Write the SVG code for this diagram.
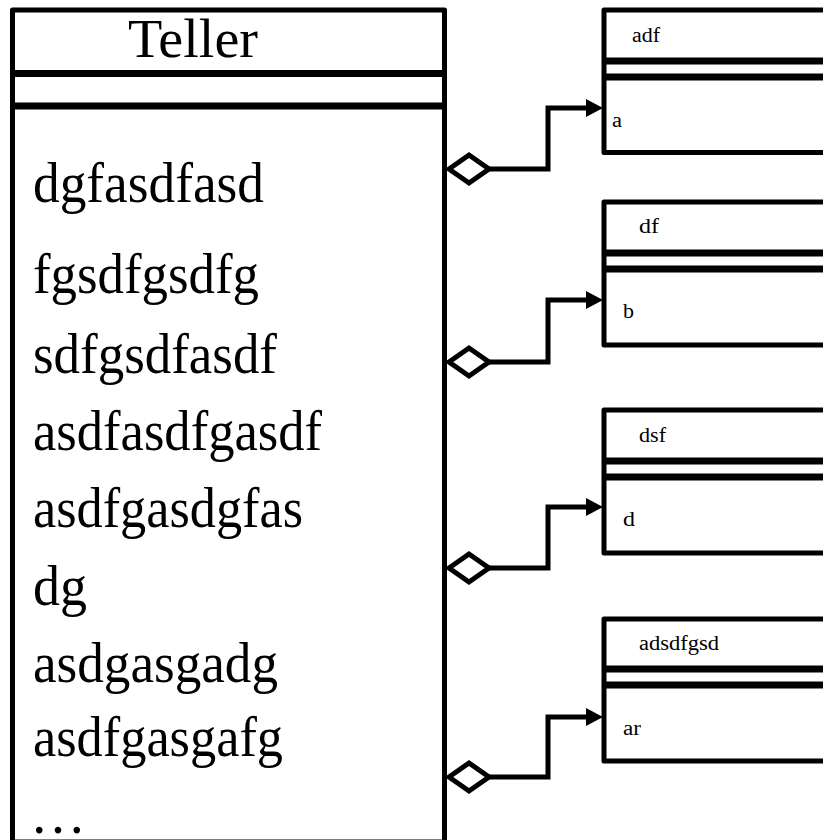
<svg xmlns="http://www.w3.org/2000/svg" width="823" height="840" viewBox="0 0 823 840">
<style>
.box{fill:#fff;stroke:#000;stroke-width:5;stroke-linejoin:round}
.sep{stroke:#000;stroke-width:7}
.big{font-family:"Liberation Serif","Times New Roman",serif;font-size:56px;fill:#000}
.title{font-family:"Liberation Serif","Times New Roman",serif;font-size:54px;fill:#000}
.small{font-family:"Liberation Serif","Times New Roman",serif;font-size:20px;fill:#000}
.conn{fill:none;stroke:#000;stroke-width:5;stroke-linejoin:miter}
.dia{fill:#fff;stroke:#000;stroke-width:5;stroke-linejoin:miter}
.head{fill:#000;stroke:none}
</style>
<rect width="823" height="840" fill="#fff"/>
<g id="teller">
<rect class="box" x="12.5" y="10" width="432" height="832"/>
<line class="sep" x1="12.5" y1="73.5" x2="444.5" y2="73.5"/>
<line class="sep" x1="12.5" y1="106" x2="444.5" y2="106"/>
<text class="title" x="128" y="57" textLength="130" lengthAdjust="spacingAndGlyphs">Teller</text>
<text class="big" x="33" y="202" textLength="231" lengthAdjust="spacingAndGlyphs">dgfasdfasd</text>
<text class="big" x="33" y="293" textLength="226" lengthAdjust="spacingAndGlyphs">fgsdfgsdfg</text>
<text class="big" x="33" y="373" textLength="244" lengthAdjust="spacingAndGlyphs">sdfgsdfasdf</text>
<text class="big" x="33" y="450" textLength="289" lengthAdjust="spacingAndGlyphs">asdfasdfgasdf</text>
<text class="big" x="33" y="527" textLength="270" lengthAdjust="spacingAndGlyphs">asdfgasdgfas</text>
<text class="big" x="33" y="605" textLength="54" lengthAdjust="spacingAndGlyphs">dg</text>
<text class="big" x="33" y="682" textLength="245" lengthAdjust="spacingAndGlyphs">asdgasgadg</text>
<text class="big" x="33" y="756" textLength="250" lengthAdjust="spacingAndGlyphs">asdfgasgafg</text>
<text class="big" x="30" y="833">…</text>
</g>
<g id="class-adf">
<rect class="box" x="604" y="10" width="230" height="142.5"/>
<line class="sep" x1="604" y1="61" x2="830" y2="61"/>
<line class="sep" x1="604" y1="77" x2="830" y2="77"/>
<text class="small" x="632" y="42" textLength="28" lengthAdjust="spacingAndGlyphs">adf</text>
<text class="small" x="612" y="127" textLength="10" lengthAdjust="spacingAndGlyphs">a</text>
</g>
<g id="class-df">
<rect class="box" x="604" y="202" width="230" height="143"/>
<line class="sep" x1="604" y1="253" x2="830" y2="253"/>
<line class="sep" x1="604" y1="269" x2="830" y2="269"/>
<text class="small" x="639" y="233" textLength="20" lengthAdjust="spacingAndGlyphs">df</text>
<text class="small" x="623" y="318" textLength="11" lengthAdjust="spacingAndGlyphs">b</text>
</g>
<g id="class-dsf">
<rect class="box" x="604" y="410" width="230" height="143"/>
<line class="sep" x1="604" y1="461" x2="830" y2="461"/>
<line class="sep" x1="604" y1="477" x2="830" y2="477"/>
<text class="small" x="639" y="442" textLength="27" lengthAdjust="spacingAndGlyphs">dsf</text>
<text class="small" x="623" y="526" textLength="12" lengthAdjust="spacingAndGlyphs">d</text>
</g>
<g id="class-adsdfgsd">
<rect class="box" x="604" y="619" width="230" height="142"/>
<line class="sep" x1="604" y1="669" x2="830" y2="669"/>
<line class="sep" x1="604" y1="685" x2="830" y2="685"/>
<text class="small" x="639" y="650" textLength="80" lengthAdjust="spacingAndGlyphs">adsdfgsd</text>
<text class="small" x="623" y="735" textLength="18" lengthAdjust="spacingAndGlyphs">ar</text>
</g>
<g id="connectors">
<path class="conn" d="M489 169 H548 V108 H590"/>
<polygon class="dia" points="449,169 469,155 489,169 469,183"/>
<polygon class="head" points="586,99 603,108 586,117"/>
<path class="conn" d="M489 362 H548 V300 H590"/>
<polygon class="dia" points="449,362 469,348 489,362 469,376"/>
<polygon class="head" points="586,291 603,300 586,309"/>
<path class="conn" d="M489 568 H548 V507 H590"/>
<polygon class="dia" points="449,568 469,554 489,568 469,582"/>
<polygon class="head" points="586,498 603,507 586,516"/>
<path class="conn" d="M489 777 H548 V717 H590"/>
<polygon class="dia" points="449,777 469,763 489,777 469,791"/>
<polygon class="head" points="586,708 603,717 586,726"/>
</g>
</svg>
